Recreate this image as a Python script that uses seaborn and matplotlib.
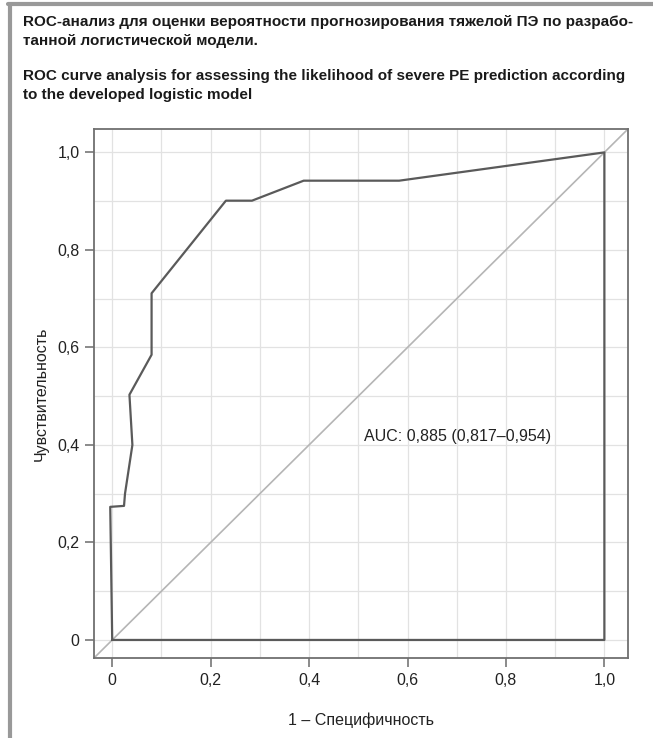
import matplotlib
matplotlib.use('Agg')
import matplotlib.pyplot as plt
from matplotlib.ticker import MultipleLocator, FuncFormatter
import seaborn as sns
import pandas as pd

# ROC curve (closed polygon as drawn in the source)
fpr = [0.0, -0.004, 0.024, 0.026, 0.041, 0.035, 0.080, 0.080, 0.231, 0.284, 0.389, 0.583, 1.0, 1.0, 0.0]
tpr = [0.0, 0.273, 0.275, 0.300, 0.400, 0.503, 0.585, 0.711, 0.901, 0.901, 0.942, 0.942, 1.0, 0.0, 0.0]

xticks = [0, 0.2, 0.4, 0.6, 0.8, 1.0]
auc_label = 'AUC: 0,885 (0,817–0,954)'
title_ru = 'ROC-анализ для оценки вероятности прогнозирования тяжелой ПЭ по разрабо-\nтанной логистической модели.'
title_en = 'ROC curve analysis for assessing the likelihood of severe PE prediction according\nto the developed logistic model'
xlabel = '1 – Специфичность'
ylabel = 'Чувствительность'

sns.set_style('white')
plt.rcParams['font.family'] = ['Liberation Sans Narrow', 'Liberation Sans', 'DejaVu Sans']

df = pd.DataFrame({'fpr': fpr, 'tpr': tpr})

fig = plt.figure(figsize=(6.53, 7.38), dpi=100)
ax = fig.add_axes([94 / 653, 1 - 658 / 738, 534 / 653, 529 / 738])

lo, hi = -0.037, 1.048
ax.set_xlim(lo, hi)
ax.set_ylim(lo, hi)

# light grid every 0.1
ax.xaxis.set_minor_locator(MultipleLocator(0.1))
ax.yaxis.set_minor_locator(MultipleLocator(0.1))
ax.grid(True, which='both', color='#e2e2e2', linewidth=0.9)
ax.set_axisbelow(True)

# reference diagonal corner to corner
ax.plot([lo, hi], [lo, hi], color='#b5b5b5', linewidth=1.2, zorder=2)

sns.lineplot(data=df, x='fpr', y='tpr', sort=False, estimator=None,
             color='#5a5a5a', linewidth=1.6, ax=ax, zorder=3)

fmt = FuncFormatter(lambda v, p: '0' if abs(v) < 1e-9 else f'{v:.1f}'.replace('.', ','))
ax.set_xticks(xticks)
ax.set_yticks(xticks)
ax.xaxis.set_major_formatter(fmt)
ax.yaxis.set_major_formatter(fmt)
ax.tick_params(axis='both', which='major', direction='out', length=6.5, width=1.2,
               color='#777777', labelsize=11.5, labelcolor='#222222', pad=4,
               left=True, bottom=True)
ax.tick_params(axis='both', which='minor', length=0)

for s in ax.spines.values():
    s.set_color('#707070')
    s.set_linewidth(1.3)

ax.set_xlabel(xlabel, fontsize=11.5, color='#222222', labelpad=18)
ax.set_ylabel(ylabel, fontsize=11.5, color='#222222', labelpad=6)

ax.text(0.512, 0.418, auc_label, fontsize=11.5, color='#222222', va='center', ha='left')

# titles
fig.text(23 / 653, 1 - 15 / 738, title_ru, fontsize=11, fontweight='bold',
         color='#1a1a1a', va='top', ha='left', linespacing=1.45)
fig.text(23 / 653, 1 - 69 / 738, title_en, fontsize=11, fontweight='bold',
         color='#1a1a1a', va='top', ha='left', linespacing=1.45)

# gray frame lines of the figure box
fig.add_artist(plt.Line2D([8 / 653, 1], [1 - 4 / 738, 1 - 4 / 738],
                          transform=fig.transFigure, color='#999999', linewidth=3))
fig.add_artist(plt.Line2D([10 / 653, 10 / 653], [0, 1 - 4 / 738],
                          transform=fig.transFigure, color='#999999', linewidth=3))

legend = ax.get_legend()
if legend is not None:
    legend.remove()

fig.savefig('out.png', dpi=100)
